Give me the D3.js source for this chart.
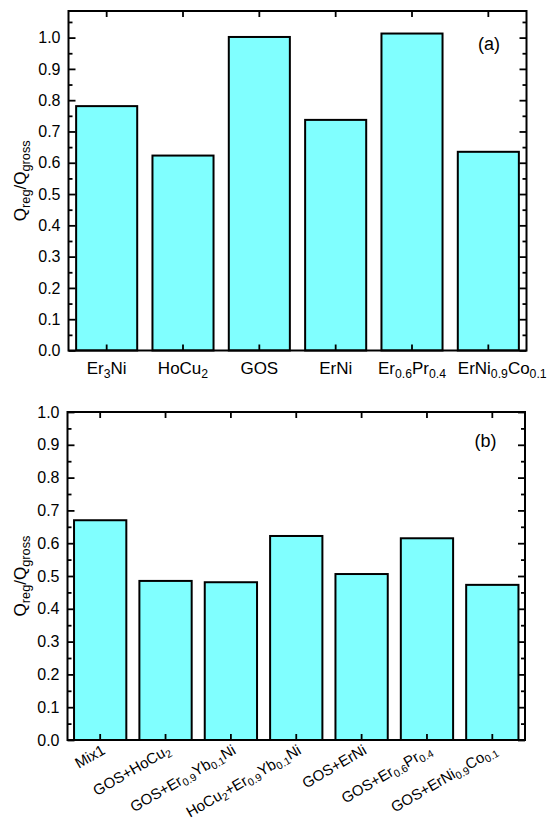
<!DOCTYPE html>
<html><head><meta charset="utf-8">
<script src="https://cdn.jsdelivr.net/npm/d3@7"></script>
<style>
html,body{margin:0;padding:0;background:#fff;}
svg{display:block;font-family:"Liberation Sans",Arial,sans-serif;}
</style></head>
<body>
<svg id="c" width="549" height="820"></svg>
<script>
// ---- data ----
const topCategories = ["Er_{3}Ni","HoCu_{2}","GOS","ErNi","Er_{0.6}Pr_{0.4}","ErNi_{0.9}Co_{0.1}"];
const topValues = [0.781, 0.623, 1.002, 0.737, 1.013, 0.635];
const bottomCategories = ["Mix1","GOS+HoCu_{2}","GOS+Er_{0.9}Yb_{0.1}Ni","HoCu_{2}+Er_{0.9}Yb_{0.1}Ni","GOS+ErNi","GOS+Er_{0.6}Pr_{0.4}","GOS+ErNi_{0.9}Co_{0.1}"];
const bottomValues = [0.670, 0.485, 0.481, 0.622, 0.506, 0.615, 0.473];
const majorTicks = [0,0.1,0.2,0.3,0.4,0.5,0.6,0.7,0.8,0.9,1.0];
const minorTicks = [0.05,0.15,0.25,0.35,0.45,0.55,0.65,0.75,0.85,0.95,1.05];
const yLabel = "Q_{reg}/Q_{gross}";

const svg = d3.select("#c");

function parseLabel(s){
  const parts=[]; const re=/_\{([^}]*)\}/g; let last=0,m;
  while((m=re.exec(s))){ if(m.index>last) parts.push({t:s.slice(last,m.index),sub:false}); parts.push({t:m[1],sub:true}); last=re.lastIndex; }
  if(last<s.length) parts.push({t:s.slice(last),sub:false});
  return parts;
}
function richText(sel, s, fs, subScale, shift){
  const parts=parseLabel(s); let lowered=false;
  parts.forEach(p=>{
    const t=sel.append("tspan").text(p.t);
    if(p.sub){ t.attr("font-size",fs*subScale); if(!lowered){t.attr("dy",shift); lowered=true;} }
    else { t.attr("font-size",fs); if(lowered){t.attr("dy",-shift); lowered=false;} }
  });
}

function panel(cfg){
  const g=svg.append("g");
  const x=d3.scaleBand().domain(cfg.cats).range([cfg.left,cfg.right]).paddingInner(0.2).paddingOuter(0.1);
  const y=d3.scaleLinear().domain([0,cfg.ymax]).range([cfg.bottom,cfg.top]);
  g.selectAll("rect.bar").data(cfg.vals).join("rect")
    .attr("x",(d,i)=>x(cfg.cats[i])).attr("width",x.bandwidth())
    .attr("y",d=>y(d)).attr("height",d=>y(0)-y(d))
    .attr("fill","#80ffff").attr("stroke","#000").attr("stroke-width",2);
  const ticksMaj=majorTicks.filter(t=>t<=cfg.ymax+1e-9);
  const ticksMin=minorTicks.filter(t=>t<=cfg.ymax+1e-9);
  const axL=g.append("g").attr("transform",`translate(${cfg.left},0)`)
    .call(d3.axisLeft(y).tickValues(ticksMaj).tickSize(-7).tickPadding(8).tickFormat(d3.format(".1f")));
  axL.select(".domain").remove();
  axL.selectAll("line").attr("stroke-width",1.8);
  axL.selectAll("text").attr("font-size",16).attr("font-family","Liberation Sans, Arial, sans-serif").attr("fill","#000");
  const axLm=g.append("g").attr("transform",`translate(${cfg.left},0)`)
    .call(d3.axisLeft(y).tickValues(ticksMin).tickSize(-4).tickFormat(""));
  axLm.select(".domain").remove(); axLm.selectAll("line").attr("stroke-width",1.8);
  const axR=g.append("g").attr("transform",`translate(${cfg.right},0)`)
    .call(d3.axisRight(y).tickValues(ticksMaj).tickSize(-7).tickFormat(""));
  axR.select(".domain").remove(); axR.selectAll("line").attr("stroke-width",1.8);
  const axRm=g.append("g").attr("transform",`translate(${cfg.right},0)`)
    .call(d3.axisRight(y).tickValues(ticksMin).tickSize(-4).tickFormat(""));
  axRm.select(".domain").remove(); axRm.selectAll("line").attr("stroke-width",1.8);
  const centers=cfg.cats.map(c=>x(c)+x.bandwidth()/2);
  const axT=g.append("g").attr("transform",`translate(0,${cfg.top})`)
    .call(d3.axisTop(x).tickSize(-6).tickFormat(""));
  axT.select(".domain").remove(); axT.selectAll("line").attr("stroke-width",1.8);
  const axB=g.append("g").attr("transform",`translate(0,${cfg.bottom})`)
    .call(d3.axisBottom(x).tickSize(-6).tickFormat(""));
  axB.select(".domain").remove(); axB.selectAll("line").attr("stroke-width",1.8);
  g.append("rect").attr("x",cfg.left).attr("y",cfg.top).attr("width",cfg.right-cfg.left).attr("height",cfg.bottom-cfg.top)
    .attr("fill","none").attr("stroke","#000").attr("stroke-width",2);
  cfg.cats.forEach((c,i)=>{
    if(cfg.rotate){
      const t=g.append("text").attr("text-anchor","end")
        .attr("transform",`translate(${centers[i]+6},${cfg.bottom+13}) rotate(-30)`);
      richText(t,c,15,0.7,3);
    } else {
      const last = i===cfg.cats.length-1;
      const t=g.append("text").attr("text-anchor", last?"start":"middle")
        .attr("x", last ? x(c) : centers[i]).attr("y",cfg.bottom+23);
      richText(t,c,17,0.72,4);
    }
  });
  const yl=g.append("text").attr("text-anchor","middle")
    .attr("transform",`translate(26,${(cfg.top+cfg.bottom)/2}) rotate(-90)`);
  richText(yl,yLabel,17,0.75,4);
  g.append("text").attr("x",cfg.tagX).attr("y",cfg.tagY).attr("text-anchor","middle").attr("font-size",18).text(cfg.tag);
}

panel({cats:topCategories,vals:topValues,left:68.5,right:526.5,top:11,bottom:350.5,ymax:1.085,rotate:false,tag:"(a)",tagX:489,tagY:50});
panel({cats:bottomCategories,vals:bottomValues,left:67.5,right:525,top:412,bottom:740,ymax:1.0,rotate:true,tag:"(b)",tagX:485.5,tagY:447});
</script>
</body></html>
